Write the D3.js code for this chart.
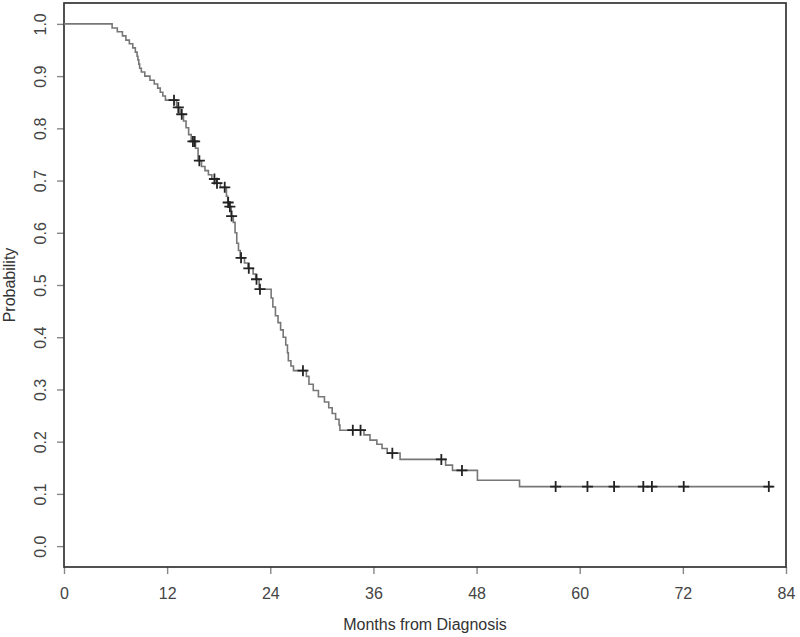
<!DOCTYPE html>
<html>
<head>
<meta charset="utf-8">
<script src="https://cdn.jsdelivr.net/npm/d3@7"></script>
<style>
  body { margin: 0; background: #fff; }
  svg { display: block; font-family: "Liberation Sans", Arial, sans-serif; }
</style>
</head>
<body>
<div id="plot"></div>
<script>
// Kaplan-Meier steps (time in months, survival after the drop)
const stepTimes = [5.6, 6.2, 6.8, 7.2, 7.6, 8.0, 8.3, 8.5, 8.6, 8.7, 8.8, 9.0, 9.4, 10.0, 10.5, 10.9, 11.2, 11.5, 11.8,
  13.1, 13.5, 13.9, 14.2, 14.5, 14.8, 15.3, 15.6, 16.0, 16.4, 16.8, 17.2, 17.7, 18.2, 18.9, 19.05, 19.25, 19.45,
  19.7, 19.9, 20.1, 20.3, 20.5, 21.0, 21.4, 22.0, 22.3, 22.7, 24.1, 24.3, 24.6, 24.9, 25.2, 25.5, 25.8, 26.0,
  26.1, 26.4, 26.7, 28.2, 28.5, 29.0, 29.6, 30.3, 30.8, 31.2, 31.6, 32.0, 32.1, 34.9, 35.6, 36.4, 37.0, 37.6,
  39.1, 44.4, 45.2, 48.1, 53.0];
const stepSurv = [0.992, 0.985, 0.977, 0.969, 0.962, 0.954, 0.946, 0.938, 0.931, 0.923, 0.915, 0.908, 0.900, 0.892,
  0.885, 0.877, 0.869, 0.862, 0.854, 0.840, 0.827, 0.814, 0.801, 0.788, 0.775, 0.762, 0.738, 0.727, 0.719, 0.711,
  0.703, 0.695, 0.687, 0.670, 0.658, 0.650, 0.632, 0.620, 0.600, 0.580, 0.566, 0.552, 0.542, 0.532, 0.521, 0.511,
  0.492, 0.475, 0.458, 0.441, 0.428, 0.414, 0.400, 0.385, 0.370, 0.355, 0.345, 0.336, 0.325, 0.310, 0.298, 0.286,
  0.276, 0.265, 0.254, 0.243, 0.232, 0.222, 0.213, 0.203, 0.195, 0.187, 0.178, 0.166, 0.155, 0.145, 0.126, 0.114];
const censorTimes = [12.8, 13.3, 13.7, 15.0, 15.2, 15.75, 17.5, 17.8, 18.7, 19.1, 19.3, 19.5, 20.6, 21.5, 22.4,
  22.8, 27.8, 33.6, 34.5, 38.2, 43.9, 46.3, 57.2, 60.9, 64.0, 67.4, 68.4, 72.1, 82.0];
const lastTime = 82.5;
const xTicks = [0, 12, 24, 36, 48, 60, 72, 84];
const yTicks = [0, 0.1, 0.2, 0.3, 0.4, 0.5, 0.6, 0.7, 0.8, 0.9, 1.0];

const W = 800, H = 637;
const box = {left: 64, right: 786, top: 3, bottom: 567};
const fontSize = "16px";

const svg = d3.select("#plot").append("svg")
  .attr("width", W).attr("height", H);

const x = d3.scaleLinear().domain([0, 84]).range([box.left, box.right]);
const y = d3.scaleLinear().domain([-0.04, 1.04]).range([box.bottom, box.top]);

function survAt(t) {
  const i = d3.bisectRight(stepTimes, t);
  return i === 0 ? 1 : stepSurv[i - 1];
}

// axes
const xAxis = svg.append("g")
  .attr("transform", "translate(0," + box.bottom + ")")
  .call(d3.axisBottom(x).tickValues(xTicks).tickSize(7).tickPadding(14).tickFormat(d3.format("d")));
const yAxis = svg.append("g")
  .attr("transform", "translate(" + box.left + ",0)")
  .call(d3.axisLeft(y).tickValues(yTicks).tickSize(7).tickPadding(0).tickFormat(d3.format(".1f")));

[xAxis, yAxis].forEach(g => {
  g.select(".domain").remove();
  g.selectAll(".tick line").attr("stroke", "#888").attr("stroke-width", 1.4);
  g.selectAll(".tick text").attr("fill", "#444").style("font-size", fontSize)
    .style("font-family", "'Liberation Sans', Arial, sans-serif");
});
// rotated y labels, centred on their ticks (R style)
yAxis.selectAll(".tick text")
  .attr("transform", "rotate(-90)")
  .attr("x", 0).attr("y", -24)
  .attr("text-anchor", "middle").attr("dy", "0.35em");

// plot box
svg.append("rect")
  .attr("x", box.left).attr("y", box.top)
  .attr("width", box.right - box.left).attr("height", box.bottom - box.top)
  .attr("fill", "none").attr("stroke", "#333").attr("stroke-width", 1.7);

// survival curve
const pts = [[0, 1]];
stepTimes.forEach((t, i) => pts.push([t, stepSurv[i]]));
pts.push([lastTime, stepSurv[stepSurv.length - 1]]);

svg.append("path")
  .datum(pts)
  .attr("fill", "none")
  .attr("stroke", "#777")
  .attr("stroke-width", 1.6)
  .attr("d", d3.line().x(d => x(d[0])).y(d => y(d[1])).curve(d3.curveStepAfter));

// censor marks
const cs = 5.5;
svg.append("g").selectAll("path")
  .data(censorTimes)
  .enter().append("path")
  .attr("d", t => {
    const cx = x(t), cy = y(survAt(t));
    return `M${cx - cs},${cy}H${cx + cs}M${cx},${cy - cs}V${cy + cs}`;
  })
  .attr("stroke", "#222").attr("stroke-width", 1.8).attr("fill", "none");

// axis titles
svg.append("text")
  .attr("x", (box.left + box.right) / 2).attr("y", 630)
  .attr("text-anchor", "middle").attr("fill", "#333")
  .style("font-size", fontSize).text("Months from Diagnosis");
svg.append("text")
  .attr("transform", "translate(15," + (box.top + box.bottom) / 2 + ") rotate(-90)")
  .attr("text-anchor", "middle").attr("fill", "#333")
  .style("font-size", fontSize).text("Probability");
</script>
</body>
</html>
